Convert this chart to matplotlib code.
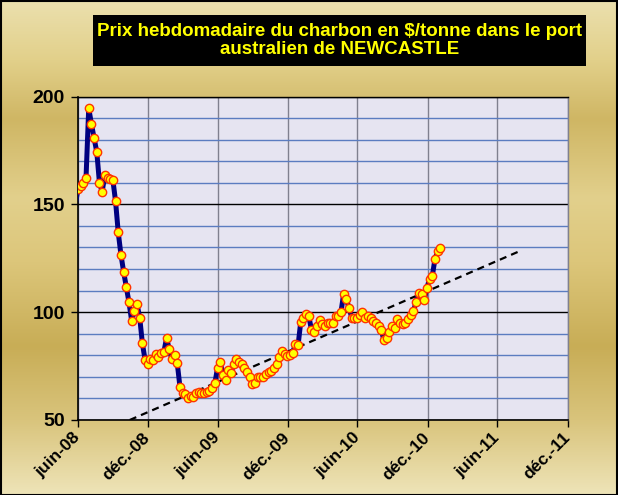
import numpy as np
import pandas as pd
import matplotlib
matplotlib.use('Agg')
import matplotlib.pyplot as plt
from matplotlib.patches import Rectangle
from matplotlib.colors import LinearSegmentedColormap

title = "Prix hebdomadaire du charbon en $/tonne dans le port\naustralien de NEWCASTLE"

start_date = "2008-06-02"
prev_date = "2008-05-26"
prev_value = 150.0
prices = [
    157.0, 158.4, 159.9, 162.4, 194.5, 187.4, 180.7, 174.3, 160.0, 155.9,
    163.5, 162.0, 161.7, 161.3, 151.4, 137.0, 126.7, 118.8, 111.7, 104.6,
    96.0, 100.6, 103.8, 97.4, 85.5, 77.9, 76.1, 78.5, 77.6, 80.4,
    79.0, 81.2, 81.5, 88.0, 82.9, 78.1, 80.1, 76.2, 65.3, 62.5,
    62.2, 60.3, 61.0, 60.8, 62.7, 63.0, 62.6, 62.3, 63.0, 63.4,
    65.0, 67.0, 74.2, 76.9, 70.7, 68.7, 73.0, 71.8, 75.9, 78.1,
    76.9, 75.9, 74.2, 72.4, 70.0, 66.7, 67.0, 70.0, 69.9, 69.8,
    71.3, 72.1, 72.7, 74.2, 75.8, 79.0, 81.8, 80.6, 79.9, 80.1,
    81.0, 85.3, 84.6, 95.5, 97.5, 99.2, 98.1, 91.8, 90.6, 93.8,
    96.3, 94.3, 93.5, 94.8, 94.9, 94.9, 98.1, 98.1, 100.1, 108.6,
    106.0, 101.9, 97.5, 97.4, 97.5, 98.6, 100.1, 97.4, 98.1, 97.2,
    96.0, 94.8, 93.7, 91.7, 87.0, 87.8, 90.6, 93.5, 92.6, 96.6,
    95.2, 94.6, 95.0, 96.6, 98.6, 100.5, 104.9, 108.8, 108.5, 105.6,
    111.2, 115.5, 116.6, 124.6, 128.2, 129.9,
]

trend_dates = ["2008-10-15", "2011-07-25"]
trend_values = [50.0, 128.0]

tick_dates = ["2008-06-01", "2008-12-01", "2009-06-01", "2009-12-01",
              "2010-06-01", "2010-12-01", "2011-06-01", "2011-12-01"]
tick_labels = ["juin-08", "déc.-08", "juin-09", "déc.-09",
               "juin-10", "déc.-10", "juin-11", "déc.-11"]
y_major = [50, 100, 150, 200]
y_minor = list(range(50, 201, 10))

plt.rcParams['font.family'] = ['Liberation Sans', 'DejaVu Sans']

W, H = 618, 495
fig = plt.figure(figsize=(W / 100, H / 100), dpi=100)

# background gradient (gold)
stops = [(0.0, '#EBE0AE'), (0.12, '#E2D08A'), (0.24, '#CFB664'), (0.40, '#E2D08C'),
         (0.53, '#DCC67A'), (0.70, '#C8AD56'), (0.85, '#D9C47C'), (1.0, '#EEE4B8')]
cmap = LinearSegmentedColormap.from_list('gold', stops)
bg = fig.add_axes([0, 0, 1, 1], zorder=-10)
grad = np.linspace(0, 1, 256).reshape(-1, 1)
bg.imshow(grad, aspect='auto', cmap=cmap, extent=[0, 1, 0, 1], origin='upper')
bg.set_xlim(0, 1)
bg.set_ylim(0, 1)
bg.axis('off')
fig.patches.append(Rectangle((0.001, 0.001), 0.997, 0.997, transform=fig.transFigure,
                             fill=False, ec='black', lw=1.5, zorder=10))

# title box
bx0, bx1, by0, by1 = 93, 586, 15, 66
fig.patches.append(Rectangle((bx0 / W, 1 - by1 / H), (bx1 - bx0) / W, (by1 - by0) / H,
                             transform=fig.transFigure, fc='black', ec='none', zorder=5))
fig.text((bx0 + bx1) / 2 / W, 1 - (by0 + by1) / 2 / H, title, color='#FFFF00',
         fontsize=13.5, fontweight='bold', ha='center', va='center', linespacing=1.05, zorder=6)

left, right, top, bottom = 77.6, 567.6, 96.5, 420.0
ax = fig.add_axes([left / W, 1 - bottom / H, (right - left) / W, (bottom - top) / H])
ax.set_facecolor('#E6E4F1')

dates = pd.date_range(start_date, periods=len(prices), freq='7D')
line_dates = [pd.Timestamp(prev_date)] + list(dates)
line_vals = [prev_value] + prices

ax.plot(pd.to_datetime(trend_dates), trend_values, color='black', lw=1.6,
        ls=(0, (3.2, 2.3)), zorder=2)
ax.plot(line_dates, line_vals, color='#000080', lw=3.6, zorder=3, solid_joinstyle='round')
ax.plot(dates, prices, ls='none', marker='o', ms=6, mfc='#FFFF00', mec='#FF3300',
        mew=1.0, zorder=4)

ax.set_xlim(pd.Timestamp(tick_dates[0]), pd.Timestamp(tick_dates[-1]))
ax.set_ylim(50, 200)
ax.set_xticks(pd.to_datetime(tick_dates))
ax.set_xticklabels(tick_labels, rotation=45, ha='right', va='center',
                   rotation_mode='anchor', fontsize=12.5, fontweight='bold')
ax.set_yticks(y_major)
ax.set_yticks(y_minor, minor=True)
ax.set_yticklabels([str(v) for v in y_major], fontsize=14, fontweight='bold')
ax.tick_params(axis='y', which='major', length=5, width=1, direction='out', pad=4)
ax.tick_params(axis='y', which='minor', length=0)
ax.tick_params(axis='x', which='major', length=5, width=1, direction='out', pad=6)

ax.yaxis.grid(True, which='minor', color='#5B7CC0', lw=1)
ax.yaxis.grid(True, which='major', color='black', lw=1)
ax.xaxis.grid(True, which='major', color='#80808F', lw=1)
ax.set_axisbelow(True)

for s in ['left', 'bottom']:
    ax.spines[s].set_color('black')
    ax.spines[s].set_linewidth(1.2)
ax.spines['top'].set_color('black')
ax.spines['top'].set_linewidth(1)
ax.spines['right'].set_color('#80808F')
ax.spines['right'].set_linewidth(1)

fig.savefig('out.png', dpi=100)
